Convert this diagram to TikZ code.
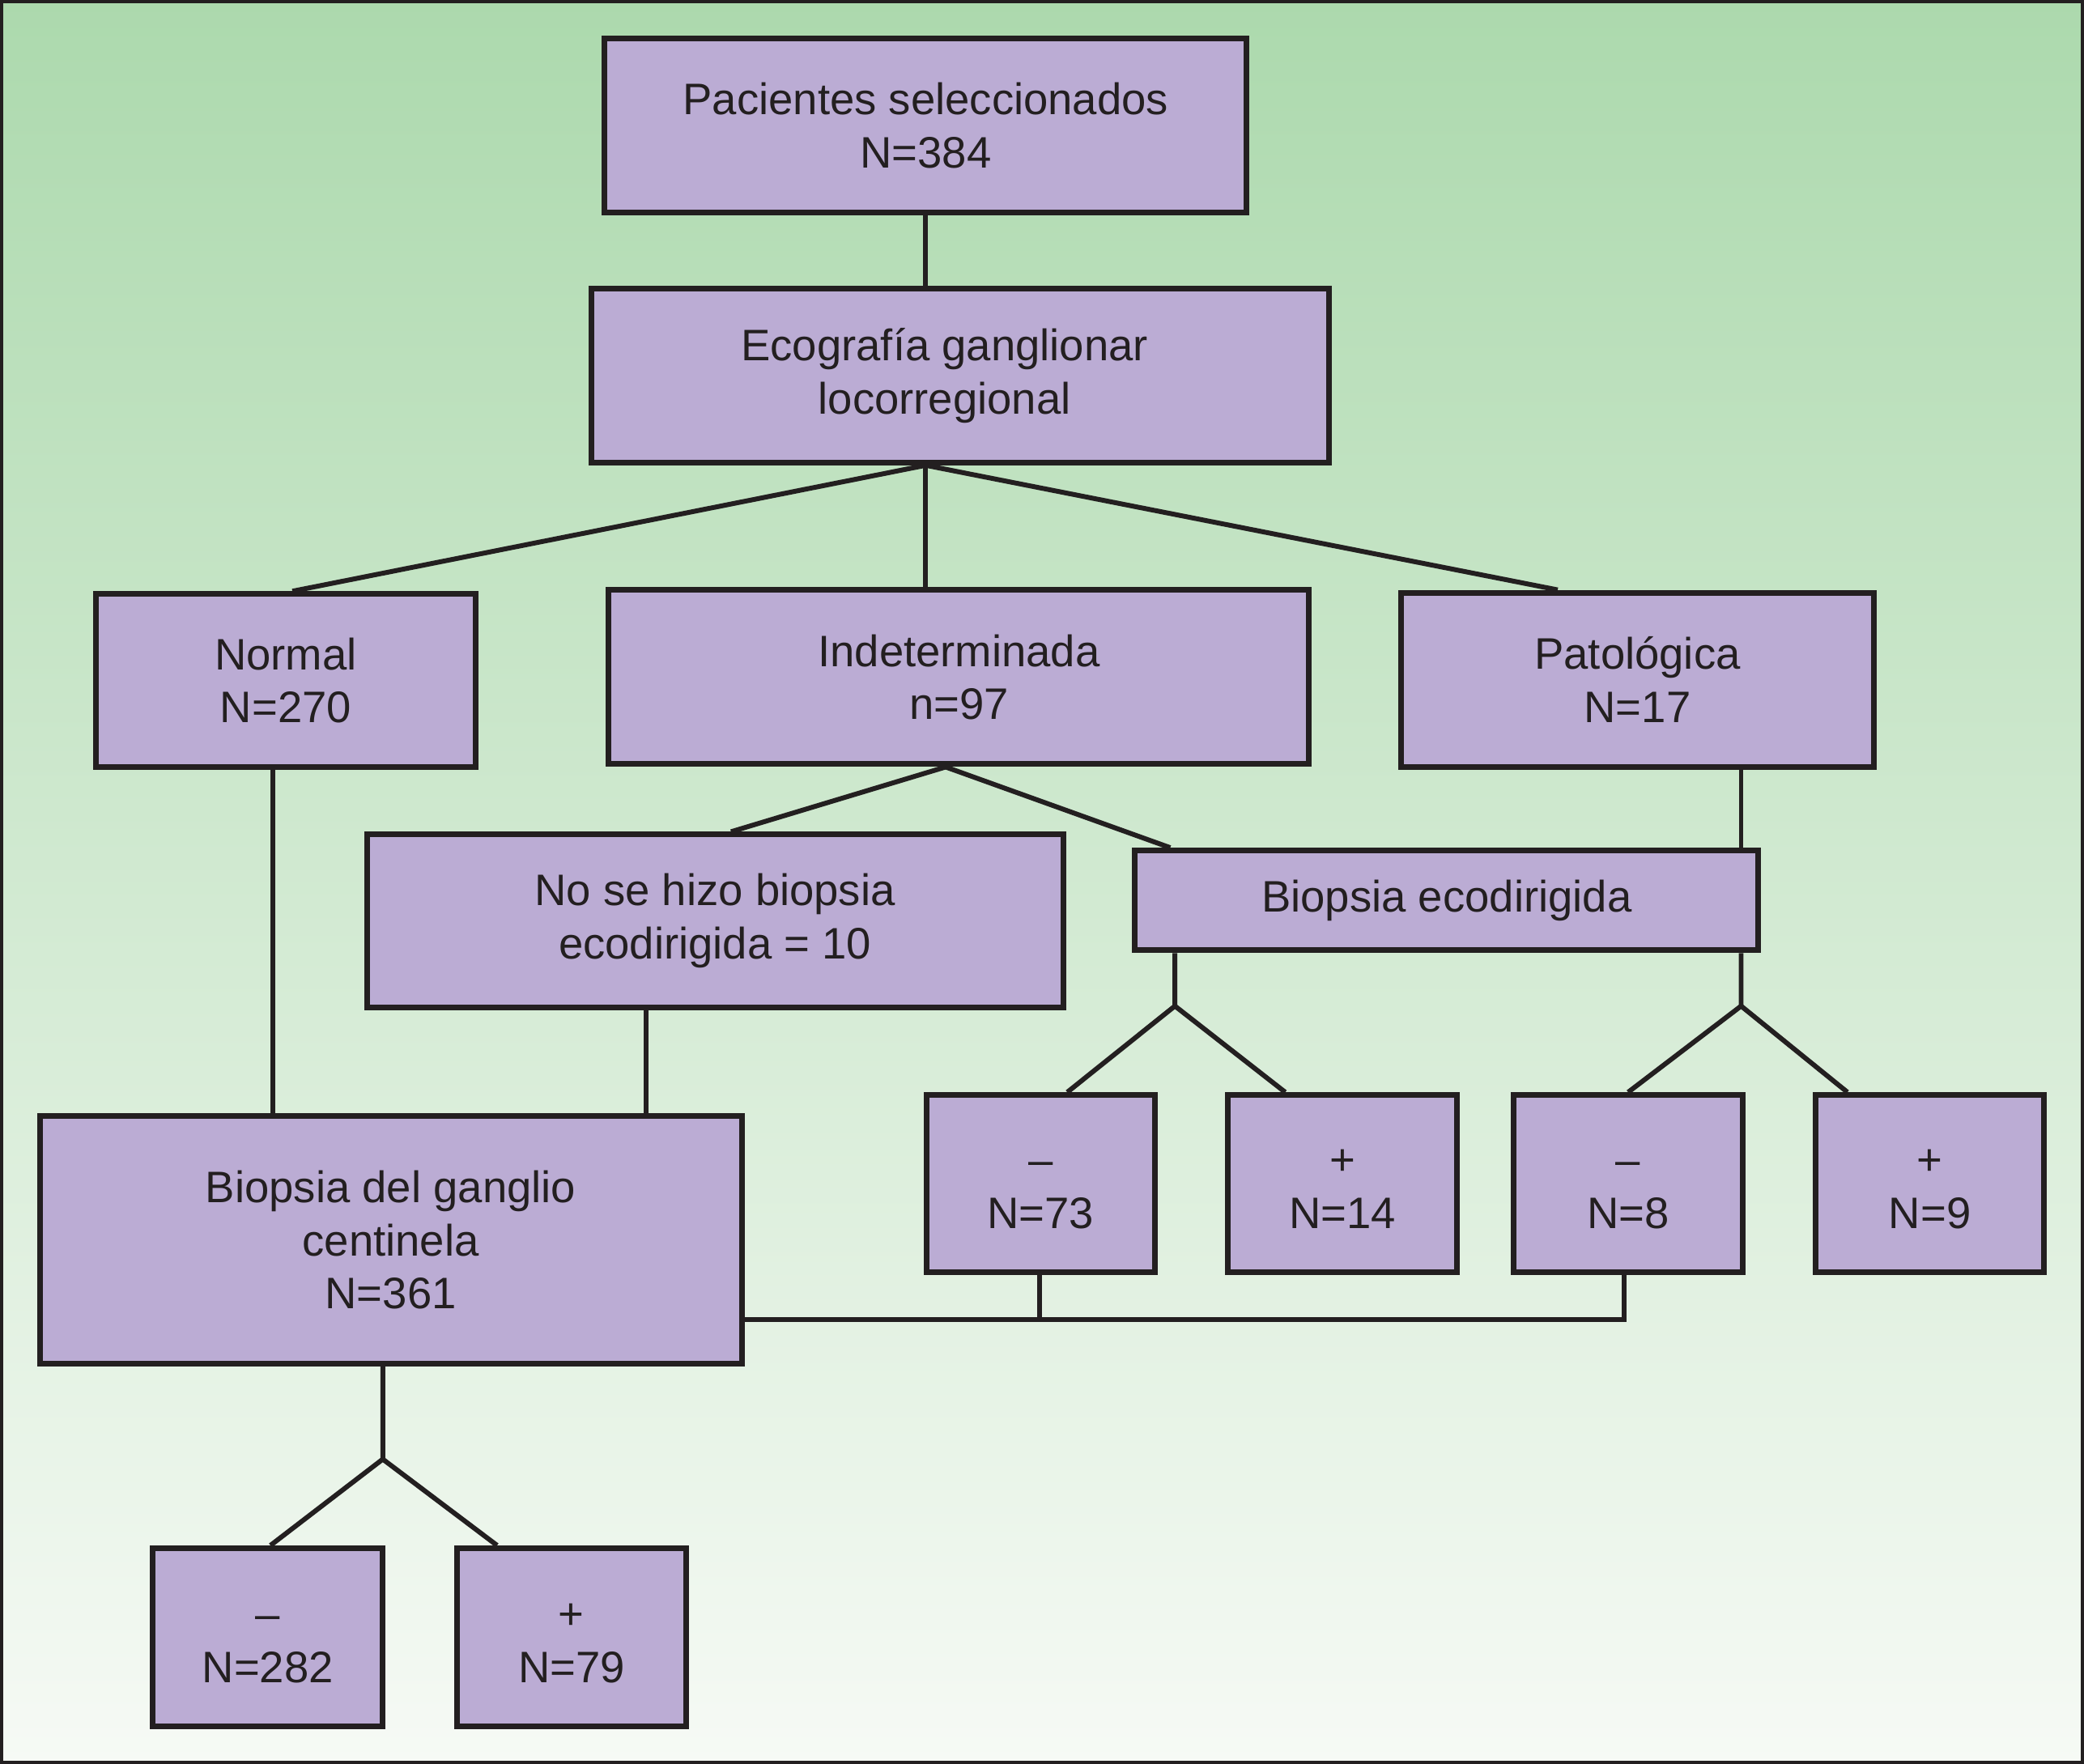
\documentclass[tikz,border=0pt]{standalone}
\usepackage{fontspec}
\setmainfont{Liberation Sans}
\usetikzlibrary{calc}

\definecolor{boxfill}{HTML}{BBACD4}
\definecolor{ink}{HTML}{231F20}
\definecolor{bgtop}{HTML}{ACD9AD}
\definecolor{bgbot}{HTML}{F6FAF5}

\begin{document}
\begin{tikzpicture}[x=0.016416cm, y=-0.016416cm,
   box/.style={draw=ink, fill=boxfill, line width=2pt, inner sep=0pt, align=center,
      text=ink, font=\fontsize{15.5}{18.7}\selectfont},
   link/.style={draw=ink, line width=1.7pt}]
\useasboundingbox (0,0) rectangle (1568,1327);
\shade[top color=bgtop, bottom color=bgbot] (0,0) rectangle (1568,1327);
\draw[ink, line width=1.2pt] (1,1) rectangle (1567,1326);

% boxes
\node[box, minimum width=483*0.016416cm, minimum height=131*0.016416cm] (pac) at (696.5,94.5) {Pacientes seleccionados\\N=384};
\node[box, minimum width=555*0.016416cm, minimum height=131*0.016416cm] (eco) at (722.5,282.5) {\hspace*{-11pt}Ecografía ganglionar\\\hspace*{-11pt}locorregional};
\node[box, minimum width=286*0.016416cm, minimum height=130*0.016416cm] (normal) at (215,512) {Normal\\N=270};
\node[box, minimum width=527*0.016416cm, minimum height=131*0.016416cm] (indet) at (721.5,509.5) {Indeterminada\\n=97};
\node[box, minimum width=356*0.016416cm, minimum height=131*0.016416cm] (pato) at (1232,511.5) {Patológica\\N=17};
\node[box, minimum width=524*0.016416cm, minimum height=130*0.016416cm] (nobiop) at (538,693) {No se hizo biopsia\\ecodirigida = 10};
\node[box, minimum width=469*0.016416cm, minimum height=75*0.016416cm] (biopeco) at (1088.5,677.5) {Biopsia ecodirigida};
\node[box, minimum width=528*0.016416cm, minimum height=186*0.016416cm] (bgc) at (294,933) {Biopsia del ganglio\\centinela\\N=361};
\node[box, minimum width=172*0.016416cm, minimum height=133*0.016416cm] (neg73) at (783,890.5) {\strut–\\N=73};
\node[box, minimum width=172*0.016416cm, minimum height=133*0.016416cm] (pos14) at (1010,890.5) {\strut+\\N=14};
\node[box, minimum width=172*0.016416cm, minimum height=133*0.016416cm] (neg8) at (1225,890.5) {\strut–\\N=8};
\node[box, minimum width=172*0.016416cm, minimum height=133*0.016416cm] (pos9) at (1452,890.5) {\strut+\\N=9};
\node[box, minimum width=173*0.016416cm, minimum height=134*0.016416cm] (neg282) at (201.5,1232) {\strut–\\N=282};
\node[box, minimum width=172*0.016416cm, minimum height=134*0.016416cm] (pos79) at (430,1232) {\strut+\\N=79};

% branch points
\coordinate (ecob) at (pac.south |- eco.south);
\coordinate (indb) at ($(indet.south)+(-10,0)$);
\coordinate (ecosplit) at (884,757);
\coordinate (patosplit) at (1310,757);
\coordinate (bgcsplit) at (288,1098);
\coordinate (bgcjoin) at (bgc.east |- 0,993);

% links
\draw[link] (pac.south) -- (pac.south |- eco.north);
\draw[link] (ecob) -- ($(normal.north)+(5,0)$);
\draw[link] (ecob) -- (ecob |- indet.north);
\draw[link] (ecob) -- ($(pato.north)+(-60,0)$);
\draw[link] (indb) -- ($(nobiop.north)+(12,0)$);
\draw[link] (indb) -- ($(biopeco.north)+(-208,0)$);
\draw[link] ($(normal.south)+(-10,0)$) -- (205,0 |- bgc.north);
\draw[link] (486,0 |- nobiop.south) -- (486,0 |- bgc.north);
\draw[link] (1310,0 |- pato.south) -- (1310,0 |- biopeco.north);
\draw[link] (ecosplit |- biopeco.south) -- (ecosplit) -- ($(neg73.north)+(20,0)$);
\draw[link] (ecosplit) -- ($(pos14.north)+(-43,0)$);
\draw[link] (patosplit |- biopeco.south) -- (patosplit) -- (neg8.north);
\draw[link] (patosplit) -- ($(pos9.north)+(-62,0)$);
\draw[link] (bgcsplit |- bgc.south) -- (bgcsplit) -- ($(neg282.north)+(2,0)$);
\draw[link] (bgcsplit) -- ($(pos79.north)+(-56,0)$);
\draw[link] (782,0 |- neg73.south) -- (782,993);
\draw[link] (bgcjoin) -- (1222,993) -- (1222,0 |- neg8.south);
\end{tikzpicture}
\end{document}
